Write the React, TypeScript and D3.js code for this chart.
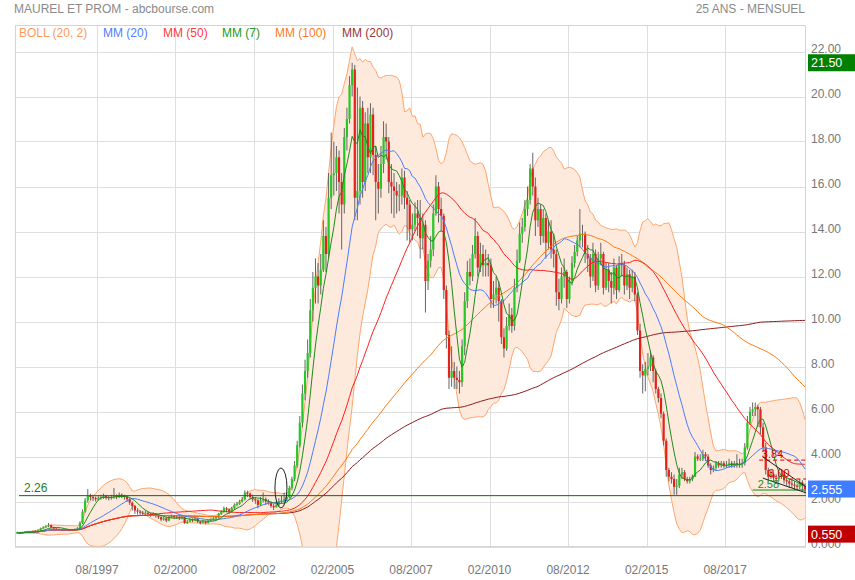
import React from 'react';
import * as d3 from 'd3';

// ---------- DATA (monthly, starting Jan 1995) ----------
const closes: number[] = [
  // 1995
  0.62, 0.60, 0.62, 0.65, 0.66, 0.64, 0.68, 0.70, 0.72, 0.80, 0.85, 0.90,
  // 1996
  0.95, 0.85, 0.80, 0.78, 0.75, 0.74, 0.73, 0.75, 0.72, 0.74, 0.76, 0.80,
  // 1997
  1.05, 1.55, 2.05, 2.25, 2.20, 2.15, 2.10, 2.15, 2.20, 2.25, 2.20, 2.15,
  // 1998
  2.20, 2.25, 2.20, 2.30, 2.25, 2.20, 2.10, 1.95, 1.80, 1.60, 1.55, 1.50,
  // 1999
  1.45, 1.50, 1.45, 1.40, 1.45, 1.35, 1.30, 1.20, 1.25, 1.15, 1.30, 1.35,
  // 2000
  1.30, 1.30, 1.25, 1.30, 1.05, 1.10, 1.20, 1.15, 1.25, 1.10, 1.05, 1.10,
  // 2001
  1.05, 1.15, 1.20, 1.25, 1.30, 1.45, 1.55, 1.70, 1.65, 1.55, 1.70, 1.85,
  // 2002
  1.90, 2.00, 2.10, 2.40, 2.35, 2.20, 2.10, 2.05, 1.85, 2.05, 2.10, 2.00,
  // 2003
  1.95, 1.80, 1.75, 1.85, 2.00, 2.05, 2.10, 2.20, 2.60, 3.00, 3.60, 4.50,
  // 2004
  5.50, 6.80, 7.80, 8.60, 10.5, 11.5, 12.0, 11.6, 12.3, 13.8, 13.0, 15.5,
  // 2005
  16.5, 16.6, 17.3, 16.2, 15.2, 18.2, 19.0, 20.5, 21.2, 15.5, 15.8, 19.5,
  // 2006
  16.2, 18.8, 17.3, 19.2, 17.4, 16.2, 15.9, 17.0, 18.2, 18.0, 16.2, 16.0,
  // 2007
  15.8, 15.6, 15.6, 16.4, 15.5, 15.2, 14.1, 14.3, 14.8, 14.6, 13.7, 14.3,
  // 2008
  11.8, 12.7, 13.2, 14.8, 16.0, 15.0, 14.7, 11.4, 9.4, 7.5, 7.8, 7.5,
  // 2009
  7.4, 7.3, 8.9, 10.9, 12.2, 12.0, 13.0, 13.8, 12.4, 13.0, 12.5, 12.6,
  // 2010
  12.5, 11.0, 11.2, 11.5, 10.9, 9.3, 8.8, 9.8, 10.3, 9.8, 11.5, 12.7,
  // 2011
  13.9, 14.2, 15.0, 15.4, 16.8, 16.0, 14.5, 15.0, 13.8, 14.6, 13.5, 14.0,
  // 2012
  13.2, 13.0, 11.3, 11.0, 12.0, 12.2, 11.0, 11.8, 12.6, 13.1, 13.6, 13.9,
  // 2013
  13.9, 13.0, 12.8, 12.0, 13.0, 11.6, 12.8, 13.0, 11.5, 12.3, 11.8, 11.5,
  // 2014
  12.4, 11.4, 12.6, 12.5, 11.6, 12.1, 11.5, 12.0, 11.2, 9.6, 7.8, 7.6,
  // 2015
  7.9, 8.0, 8.4, 7.8, 7.0, 6.6, 5.9, 4.7, 3.4, 3.1, 3.0, 2.65,
  // 2016
  2.7, 3.2, 3.3, 3.0, 2.9, 3.0, 3.1, 4.0, 3.9, 3.9, 4.1, 4.0,
  // 2017
  3.6, 3.4, 3.5, 3.7, 3.6, 3.7, 3.6, 3.65, 3.7, 3.6, 3.7, 3.65,
  // 2018
  3.65, 3.7, 4.4, 5.5, 6.0, 6.1, 6.2, 6.1, 5.3, 4.4, 3.4, 3.1,
  // 2019
  3.2, 3.05, 3.0, 3.1, 3.2, 2.95, 2.9, 2.8, 2.75, 2.7, 2.65, 2.85,
  // 2020
  2.7, 2.555,
];

const highs: number[] = [
  0.66, 0.64, 0.65, 0.68, 0.69, 0.68, 0.71, 0.73, 0.76, 0.84, 0.90, 0.95,
  1.05, 0.98, 0.88, 0.83, 0.80, 0.78, 0.77, 0.79, 0.77, 0.78, 0.80, 0.86,
  1.12, 1.65, 2.15, 2.55, 2.35, 2.30, 2.22, 2.25, 2.30, 2.35, 2.30, 2.25,
  2.30, 2.60, 2.32, 2.40, 2.36, 2.30, 2.25, 2.15, 2.00, 1.85, 1.70, 1.62,
  1.58, 1.60, 1.55, 1.50, 1.52, 1.48, 1.42, 1.35, 1.32, 1.30, 1.36, 1.42,
  1.40, 1.38, 1.35, 1.38, 1.32, 1.18, 1.26, 1.25, 1.30, 1.28, 1.15, 1.18,
  1.15, 1.20, 1.26, 1.30, 1.36, 1.50, 1.62, 1.78, 1.75, 1.68, 1.76, 1.92,
  1.98, 2.08, 2.20, 2.50, 2.48, 2.40, 2.30, 2.20, 2.10, 2.20, 2.40, 2.18,
  2.10, 2.00, 1.90, 1.98, 2.15, 2.25, 2.40, 2.35, 2.70, 3.10, 3.80, 4.70,
  5.80, 7.20, 8.30, 9.20, 11.0, 12.2, 12.8, 12.6, 13.0, 14.5, 14.2, 16.6,
  18.4, 18.0, 17.8, 17.6, 16.6, 18.6, 19.5, 20.9, 21.5, 21.4, 20.4, 20.0,
  19.8, 19.3, 19.5, 19.7, 19.5, 17.8, 17.0, 17.8, 18.9, 18.8, 18.2, 17.0,
  16.6, 16.2, 16.1, 16.8, 16.7, 15.8, 15.4, 14.8, 15.3, 15.4, 15.4, 14.8,
  14.5, 13.0, 13.8, 15.2, 16.5, 16.2, 15.5, 14.8, 11.6, 9.6, 8.9, 8.2,
  8.0, 7.8, 9.2, 11.3, 12.7, 12.8, 13.4, 14.6, 14.0, 13.5, 13.4, 13.2,
  13.0, 12.8, 11.8, 12.0, 11.8, 11.0, 9.7, 10.2, 10.8, 10.6, 11.9, 13.2,
  14.4, 14.6, 15.4, 16.0, 17.0, 17.5, 16.4, 15.5, 15.2, 15.0, 14.8, 14.5,
  14.5, 13.9, 13.2, 11.9, 12.4, 12.8, 12.3, 12.0, 12.9, 13.4, 13.8, 15.0,
  14.3, 14.0, 13.4, 13.0, 13.5, 13.2, 13.1, 13.5, 13.1, 12.6, 12.6, 12.2,
  12.8, 12.5, 12.9, 13.0, 12.7, 12.4, 12.3, 12.3, 12.2, 11.3, 9.9, 8.1,
  8.2, 8.6, 8.7, 8.5, 7.9, 7.1, 6.8, 6.0, 4.8, 3.5, 3.3, 3.2,
  3.0, 3.5, 3.5, 3.4, 3.1, 3.1, 3.2, 4.2, 4.1, 4.1, 4.3, 4.2,
  4.1, 3.7, 3.6, 3.8, 3.8, 3.8, 3.8, 3.8, 3.9, 3.8, 3.8, 4.1,
  3.9, 3.9, 4.6, 5.8, 6.2, 6.4, 6.4, 6.3, 6.2, 5.5, 4.6, 3.5,
  3.4, 3.3, 3.2, 3.3, 3.4, 3.3, 3.1, 3.0, 2.95, 2.9, 2.8, 3.0,
  2.95, 2.8,
];

const lows: number[] = [
  0.57, 0.55, 0.58, 0.60, 0.62, 0.61, 0.63, 0.66, 0.68, 0.70, 0.78, 0.83,
  0.86, 0.82, 0.76, 0.74, 0.71, 0.70, 0.69, 0.70, 0.68, 0.70, 0.72, 0.74,
  0.78, 1.00, 1.50, 1.95, 2.05, 2.02, 2.00, 2.05, 2.08, 2.12, 2.08, 2.05,
  2.08, 2.12, 2.10, 2.15, 2.15, 2.08, 1.98, 1.85, 1.60, 1.45, 1.42, 1.40,
  1.38, 1.40, 1.38, 1.32, 1.35, 1.28, 1.22, 1.12, 1.15, 1.08, 1.12, 1.26,
  1.22, 1.22, 1.18, 1.20, 1.00, 1.00, 1.08, 1.08, 1.12, 1.05, 0.98, 1.02,
  0.98, 1.02, 1.10, 1.15, 1.20, 1.25, 1.40, 1.50, 1.52, 1.45, 1.50, 1.62,
  1.78, 1.85, 1.95, 2.05, 2.20, 2.10, 1.98, 1.90, 1.70, 1.80, 1.95, 1.85,
  1.85, 1.72, 1.62, 1.72, 1.80, 1.90, 1.95, 2.02, 2.15, 2.50, 2.90, 3.50,
  4.40, 5.30, 6.50, 7.50, 8.40, 10.0, 10.8, 10.8, 11.2, 12.2, 12.2, 12.8,
  15.0, 15.6, 15.8, 14.8, 13.2, 14.8, 17.6, 18.8, 20.0, 14.5, 14.5, 15.2,
  15.5, 15.8, 16.6, 16.6, 16.5, 14.5, 14.8, 15.5, 16.6, 17.2, 15.7, 14.8,
  14.6, 14.8, 14.9, 15.2, 15.0, 13.6, 13.5, 13.6, 14.0, 13.8, 12.8, 13.2,
  10.4, 11.4, 12.4, 12.9, 14.7, 14.4, 14.0, 11.0, 8.8, 7.0, 7.1, 7.0,
  7.0, 6.8, 7.1, 8.5, 10.6, 11.6, 11.8, 12.8, 12.0, 12.2, 12.0, 12.0,
  12.0, 10.6, 10.6, 10.8, 10.0, 9.0, 8.4, 8.7, 9.6, 9.5, 9.6, 11.3,
  12.6, 13.5, 14.0, 14.7, 15.2, 15.6, 13.8, 14.2, 13.4, 13.5, 12.8, 13.2,
  12.8, 12.4, 10.7, 10.5, 10.8, 11.5, 10.6, 10.8, 11.6, 12.4, 12.9, 13.3,
  13.3, 12.6, 12.2, 11.5, 11.8, 11.3, 11.4, 12.5, 11.2, 11.4, 11.3, 10.8,
  11.2, 11.0, 11.3, 12.0, 11.2, 11.4, 11.0, 11.3, 10.9, 9.4, 7.5, 6.8,
  6.9, 7.6, 7.8, 7.3, 6.8, 6.4, 5.7, 4.5, 3.1, 2.9, 2.8, 2.3,
  2.3, 2.6, 3.0, 2.9, 2.8, 2.8, 2.9, 3.1, 3.8, 3.8, 3.8, 3.8,
  3.5, 3.2, 3.3, 3.4, 3.5, 3.5, 3.5, 3.5, 3.5, 3.5, 3.5, 3.5,
  3.5, 3.5, 3.6, 4.3, 5.4, 5.8, 5.8, 5.3, 5.0, 4.2, 3.2, 2.9,
  3.0, 2.9, 2.8, 2.9, 3.0, 2.8, 2.7, 2.6, 2.6, 2.5, 2.5, 2.55,
  2.45, 2.35,
];

const firstOpen = 0.60;

const yTickValues: number[] = [0, 2, 4, 6, 8, 10, 12, 14, 16, 18, 20, 22];
const xTickLabels: string[] = ['08/1997', '02/2000', '08/2002', '02/2005', '08/2007', '02/2010', '08/2012', '02/2015', '08/2017'];

const legendNames: string[] = ['BOLL (20, 2)', 'MM (20)', 'MM (50)', 'MM (7)', 'MM (100)', 'MM (200)'];
const legendColors: string[] = ['#ff9a5c', '#4f7dff', '#ff3b3b', '#229922', '#ff7a1e', '#993636'];
const legendX: number[] = [19, 103, 163, 222, 275, 342];

const maPeriods: number[] = [200, 100, 50, 20, 7];
const maColors: string[] = ['#8e1b1b', '#ff7a10', '#ff1f1f', '#4a7cff', '#1c8c1c'];

// value labels on the right axis
const boxValues: number[] = [21.5, 2.555, 0.55];
const boxTexts: string[] = ['21.50', '2.555', '0.550'];
const boxColors: string[] = ['#008000', '#3f7cff', '#c00000'];

// drawn annotations (month index from Jan 1995, price)
const supportValue = 2.26;
const redLevels: number[] = [3.84, 3.0];
const redLevelStart: number[] = [284, 295.5];
const redLevelLabelT: number[] = [285, 287.5];
const greenLevel = 2.51;
const greenLevelStart = 281.5;
const wedgeUpper: [number, number][] = [[285.4, 3.98], [302, 2.64]];
const wedgeLower: [number, number][] = [[285.4, 3.04], [302, 2.38]];
const ellipseCenter: [number, number] = [101.3, 2.6];
const ellipseRadius: [number, number] = [2.3, 0.89];

// ---------- LAYOUT ----------
const W = 855, H = 580;
const L = 15, R = 806, T = 25, B = 546.5;
const FONT = '"Liberation Sans", Arial, sans-serif';

export default function App() {
  const opens = closes.map((c, i) => (i === 0 ? firstOpen : closes[i - 1]));

  const x = d3.scaleLinear().domain([0, 302]).range([15.8, 15.8 + 302 * 2.6175]);
  const xc = (i: number) => x(i + 0.5);
  const y = d3.scaleLinear().domain([0, 22]).range([B, 51.5]);

  const sma = (p: number) =>
    closes.map((_, i) => d3.mean(closes.slice(Math.max(0, i - p + 1), i + 1)) as number);
  const mid = sma(20);
  const sd = closes.map((_, i) => {
    const w = closes.slice(Math.max(0, i - 19), i + 1);
    const m = d3.mean(w) as number;
    return Math.sqrt(d3.mean(w.map((v) => (v - m) * (v - m))) as number);
  });
  const upper = mid.map((m, i) => m + 2 * sd[i]);
  const lower = mid.map((m, i) => m - 2 * sd[i]);

  const line = d3.line<number>().x((_, i) => xc(i)).y((d) => y(d));
  const area = d3
    .area<number>()
    .x((_, i) => xc(i))
    .y0((_, i) => y(lower[i]))
    .y1((_, i) => y(upper[i]));

  const fmtY = (v: number) => (v >= 5 ? v.toFixed(2) : v.toFixed(3));
  const tickT = (s: string) => {
    const [mm, yy] = s.split('/').map(Number);
    return (yy - 1995) * 12 + (mm - 1);
  };

  const bw = 2.2;

  return (
    <svg width={W} height={H} style={{ display: 'block', position: 'absolute', left: 0, top: 0, background: '#fff' }} fontFamily={FONT}>
      <defs>
        <clipPath id="plot">
          <rect x={L} y={T} width={R - L} height={B - T} />
        </clipPath>
      </defs>
      <rect x={0} y={0} width={W} height={H} fill="#fff" />

      {/* title */}
      <text x={14} y={13} fontSize={12} fill="#8a8a8a">MAUREL ET PROM - abcbourse.com</text>
      <text x={805} y={13} fontSize={12} fill="#8a8a8a" textAnchor="end">25 ANS - MENSUEL</text>

      {/* grid */}
      {yTickValues.map((v) => (
        <line key={'gy' + v} x1={L} x2={R} y1={Math.round(y(v)) + 0.5} y2={Math.round(y(v)) + 0.5} stroke="#dedede" />
      ))}
      {xTickLabels.map((s) => (
        <line key={'gx' + s} x1={Math.round(x(tickT(s))) + 0.5} x2={Math.round(x(tickT(s))) + 0.5} y1={T} y2={B} stroke="#dedede" />
      ))}
      <rect x={L + 0.5} y={T + 0.5} width={R - L - 1} height={B - T - 0.5} fill="none" stroke="#d4d4d4" />

      <g clipPath="url(#plot)">
        {/* Bollinger */}
        <path d={area(closes) || ''} fill="#fdeadd" />
        <path d={line(upper) || ''} fill="none" stroke="#ffa56c" strokeWidth={1} />
        <path d={line(lower) || ''} fill="none" stroke="#ffa56c" strokeWidth={1} />

        {/* candles */}
        {closes.map((c, i) => (
          <line key={'w' + i} x1={xc(i)} x2={xc(i)} y1={y(highs[i])} y2={y(lows[i])} stroke="#555" strokeWidth={0.9} />
        ))}
        {closes.map((c, i) => {
          const o = opens[i];
          const up = c >= o;
          const top = y(Math.max(o, c));
          const h = Math.max(1, Math.abs(y(o) - y(c)));
          return (
            <rect key={'b' + i} x={xc(i) - bw / 2} y={top} width={bw} height={h}
              fill={up ? '#25c825' : '#e4221b'} />
          );
        })}

        {/* moving averages */}
        {maPeriods.map((p, k) => (
          <path key={'ma' + p} d={line(sma(p)) || ''} fill="none" stroke={maColors[k]} strokeWidth={1} />
        ))}

        {/* support line */}
        <line x1={19} x2={R} y1={y(supportValue)} y2={y(supportValue)} stroke="#0a6e0a" strokeWidth={1} />

        {/* annotations */}
        {redLevels.map((v, k) => (
          <line key={'rl' + k} x1={x(redLevelStart[k])} x2={R} y1={y(v)} y2={y(v)} stroke="#d40000" strokeDasharray="4,3" />
        ))}
        <line x1={x(greenLevelStart)} x2={R} y1={y(greenLevel)} y2={y(greenLevel)} stroke="#118811" />
        <line x1={x(wedgeUpper[0][0])} y1={y(wedgeUpper[0][1])} x2={x(wedgeUpper[1][0])} y2={y(wedgeUpper[1][1])} stroke="#222" />
        <line x1={x(wedgeLower[0][0])} y1={y(wedgeLower[0][1])} x2={x(wedgeLower[1][0])} y2={y(wedgeLower[1][1])} stroke="#222" />
        <ellipse cx={x(ellipseCenter[0])} cy={y(ellipseCenter[1])}
          rx={x(ellipseCenter[0] + ellipseRadius[0]) - x(ellipseCenter[0])}
          ry={y(0) - y(ellipseRadius[1])} fill="none" stroke="#222" strokeWidth={1} />
      </g>

      {/* annotation texts */}
      <text x={24} y={y(supportValue) - 4} fontSize={12} fill="#1d7d1d">2.26</text>
      {redLevels.map((v, k) => (
        <text key={'rt' + k} x={x(redLevelLabelT[k])} y={y(v) - 2} fontSize={11} fill="#d40000">{v.toFixed(2)}</text>
      ))}
      <text x={x(greenLevelStart) + 5} y={y(greenLevel) - 2} fontSize={11} fill="#1d8d1d">2.58</text>

      {/* legend */}
      {legendNames.map((s, k) => (
        <text key={'lg' + k} x={legendX[k]} y={37} fontSize={12} fill={legendColors[k]}>{s}</text>
      ))}

      {/* y axis labels */}
      {yTickValues.map((v) => (
        <text key={'yl' + v} x={811} y={y(v) + 1.5} fontSize={12} fill="#777">{fmtY(v)}</text>
      ))}

      {/* x axis labels */}
      {xTickLabels.map((s) => (
        <text key={'xl' + s} x={x(tickT(s))} y={574} fontSize={12} fill="#777" textAnchor="middle">{s}</text>
      ))}

      {/* value boxes */}
      {boxValues.map((v, k) => (
        <g key={'bx' + k}>
          <rect x={808} y={y(v) - 8.5} width={47} height={17} fill={boxColors[k]} />
          <text x={811} y={y(v) + 4.5} fontSize={12.5} fill="#fff">{boxTexts[k]}</text>
        </g>
      ))}
    </svg>
  );
}
